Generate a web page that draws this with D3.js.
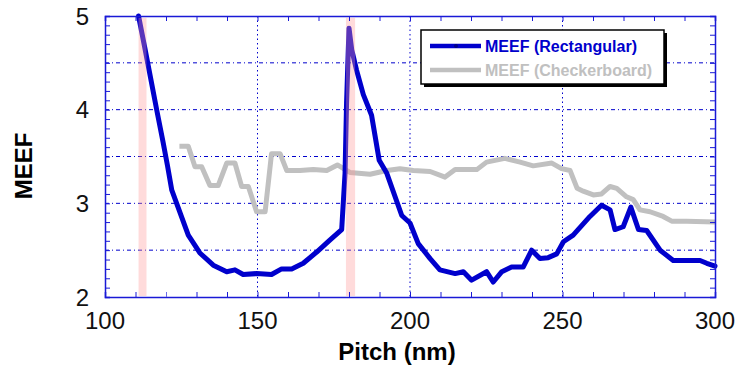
<!DOCTYPE html>
<html><head><meta charset="utf-8">
<script src="https://cdn.jsdelivr.net/npm/d3@7"></script>
<style>body{margin:0;background:#fff}svg{display:block;font-family:"Liberation Sans",Arial,sans-serif}</style>
</head><body><svg id="c" width="737" height="370"></svg>
<script>
const rectPitch = [111,113,115,117,119,120.5,121.9,124.6,127.3,131.1,135.5,139.9,142.6,145.3,149.7,154.6,157.9,161.2,165,169.4,173.8,177.6,178.7,179.2,180,180.9,182.5,184.7,187.4,189.9,192.4,197.3,200,202.7,206.6,209.8,214.8,217.5,220.2,225.1,227.3,230.1,233.3,237.1,239.9,242.6,245.3,248.1,250.3,253.5,259,262.8,265.6,267.2,269.9,272.4,274.9,277.6,282,286.3,290.7,295.1,297.3,300];
const rectMEEF = [5.0,4.67,4.33,3.99,3.66,3.40,3.14,2.90,2.66,2.47,2.34,2.27,2.29,2.24,2.25,2.24,2.30,2.30,2.36,2.48,2.61,2.72,3.32,4.07,4.87,4.64,4.42,4.16,3.94,3.46,3.32,2.87,2.79,2.57,2.41,2.29,2.25,2.27,2.18,2.27,2.16,2.27,2.32,2.32,2.50,2.41,2.42,2.46,2.59,2.66,2.86,2.98,2.93,2.72,2.75,2.96,2.72,2.71,2.50,2.39,2.39,2.39,2.36,2.33];
const checkPitch = [124.4,127.3,129.5,131.7,134.4,137.1,139.9,142.6,144.8,147,149.7,152.5,154.6,157.4,159.6,163.9,168.3,172.7,176.2,180.3,186.9,192.4,196.7,201.1,206.6,211.5,214.8,221.9,225.1,231.1,236.1,240.4,246.5,249.7,252.5,254.8,256.8,260.1,262.8,265.6,267.8,271,273.2,275.4,278.7,283,285.8,290.7,300];
const checkMEEF = [3.61,3.61,3.39,3.39,3.19,3.19,3.43,3.43,3.18,3.18,2.91,2.91,3.53,3.53,3.35,3.35,3.36,3.35,3.41,3.33,3.31,3.35,3.37,3.35,3.34,3.28,3.36,3.36,3.44,3.48,3.44,3.40,3.43,3.37,3.35,3.16,3.13,3.09,3.10,3.18,3.16,3.07,3.04,2.93,2.91,2.86,2.81,2.81,2.80];
const bandStart = [111, 179];
const bandEnd = [113.6, 182];
const xTicks = [100,150,200,250,300];
const yTicks = [2,3,4,5];
const seriesNames = ["MEEF (Rectangular)","MEEF (Checkerboard)"];
const seriesColors = ["#0000cc","#c0c0c0"];

const svg = d3.select("#c");
const L=105,R=715,T=16,B=297;
const x = d3.scaleLinear().domain([100,300]).range([L,R]);
const y = d3.scaleLinear().domain([2,5]).range([B,T]);
const axisColor="#1a1ad6";

// grid
const g = svg.append("g");
[2.5,3,3.5,4,4.5].forEach(v=>g.append("line").attr("x1",L).attr("x2",R).attr("y1",y(v)).attr("y2",y(v))
  .attr("stroke","#0000cc").attr("stroke-width",1).attr("stroke-dasharray","4,3,1,3"));
[150,200,250].forEach(v=>g.append("line").attr("x1",x(v)).attr("x2",x(v)).attr("y1",T).attr("y2",B)
  .attr("stroke","#0000cc").attr("stroke-width",1).attr("stroke-dasharray","1.5,3"));

// lines
const line = d3.line().x(d=>x(d[0])).y(d=>y(d[1]));
svg.append("path").datum(checkPitch.map((p,i)=>[p,checkMEEF[i]])).attr("d",line)
  .attr("fill","none").attr("stroke",seriesColors[1]).attr("stroke-width",5).attr("stroke-linejoin","round");
svg.append("path").datum(rectPitch.map((p,i)=>[p,rectMEEF[i]])).attr("d",line)
  .attr("fill","none").attr("stroke",seriesColors[0]).attr("stroke-width",5).attr("stroke-linejoin","round").attr("stroke-linecap","round");

// bands
bandStart.forEach((s,i)=>svg.append("rect").attr("x",x(s)).attr("width",x(bandEnd[i])-x(s))
  .attr("y",y(4.98)).attr("height",y(2)-y(4.98)-1).attr("fill","#ff9999").attr("opacity",0.35));

// axes (inward ticks)
const minorX = d3.range(110,300,10);
const minorY = d3.range(21,50,1).map(v=>v/10);
const ax = svg.append("g");
ax.append("g").attr("transform",`translate(0,${B})`).call(d3.axisBottom(x).tickValues(minorX).tickSize(-5).tickFormat(""));
ax.append("g").attr("transform",`translate(0,${T})`).call(d3.axisTop(x).tickValues(minorX).tickSize(-5).tickFormat(""));
ax.append("g").attr("transform",`translate(${L},0)`).call(d3.axisLeft(y).tickValues(minorY).tickSize(-5).tickFormat(""));
ax.append("g").attr("transform",`translate(${R},0)`).call(d3.axisRight(y).tickValues(minorY).tickSize(-5).tickFormat(""));
ax.selectAll("path").attr("stroke",axisColor).attr("stroke-width",1.5);
ax.selectAll("line").attr("stroke",axisColor);
ax.select("g:nth-child(3)").selectAll("path,line").attr("stroke","#6b6be8");

// tick labels
svg.selectAll(".xl").data(xTicks).enter().append("text").attr("x",d=>x(d)).attr("y",329)
  .attr("text-anchor","middle").attr("font-size",24).attr("fill","#111").text(d=>d);
svg.selectAll(".yl").data(yTicks).enter().append("text").attr("x",89).attr("y",d=>y(d)+8.5)
  .attr("text-anchor","end").attr("font-size",24).attr("fill","#111").text(d=>d);

svg.append("text").attr("x",397).attr("y",360).attr("text-anchor","middle").attr("font-size",24)
  .attr("font-weight","bold").attr("fill","#000").text("Pitch (nm)");
svg.append("text").attr("transform","translate(31.5,166) rotate(-90)").attr("text-anchor","middle")
  .attr("font-size",24).attr("font-weight","bold").attr("fill","#000").text("MEEF");

// legend
const lg = svg.append("g");
lg.append("rect").attr("x",424).attr("y",33).attr("width",243).attr("height",54).attr("fill","#000");
lg.append("rect").attr("x",421).attr("y",30).attr("width",243).attr("height",54).attr("fill","#fff").attr("stroke","#000").attr("stroke-width",1.5);
seriesNames.forEach((n,i)=>{
  const yy = 46 + i*24;
  lg.append("line").attr("x1",430).attr("x2",481).attr("y1",yy).attr("y2",yy).attr("stroke",seriesColors[i]).attr("stroke-width",4.5);
  lg.append("text").attr("x",485).attr("y",yy+6).attr("font-size",16).attr("font-weight","bold").attr("fill",seriesColors[i]).text(n);
});
lg.append("circle").attr("cx",456).attr("cy",46).attr("r",2).attr("fill","#000088");
</script></body></html>
